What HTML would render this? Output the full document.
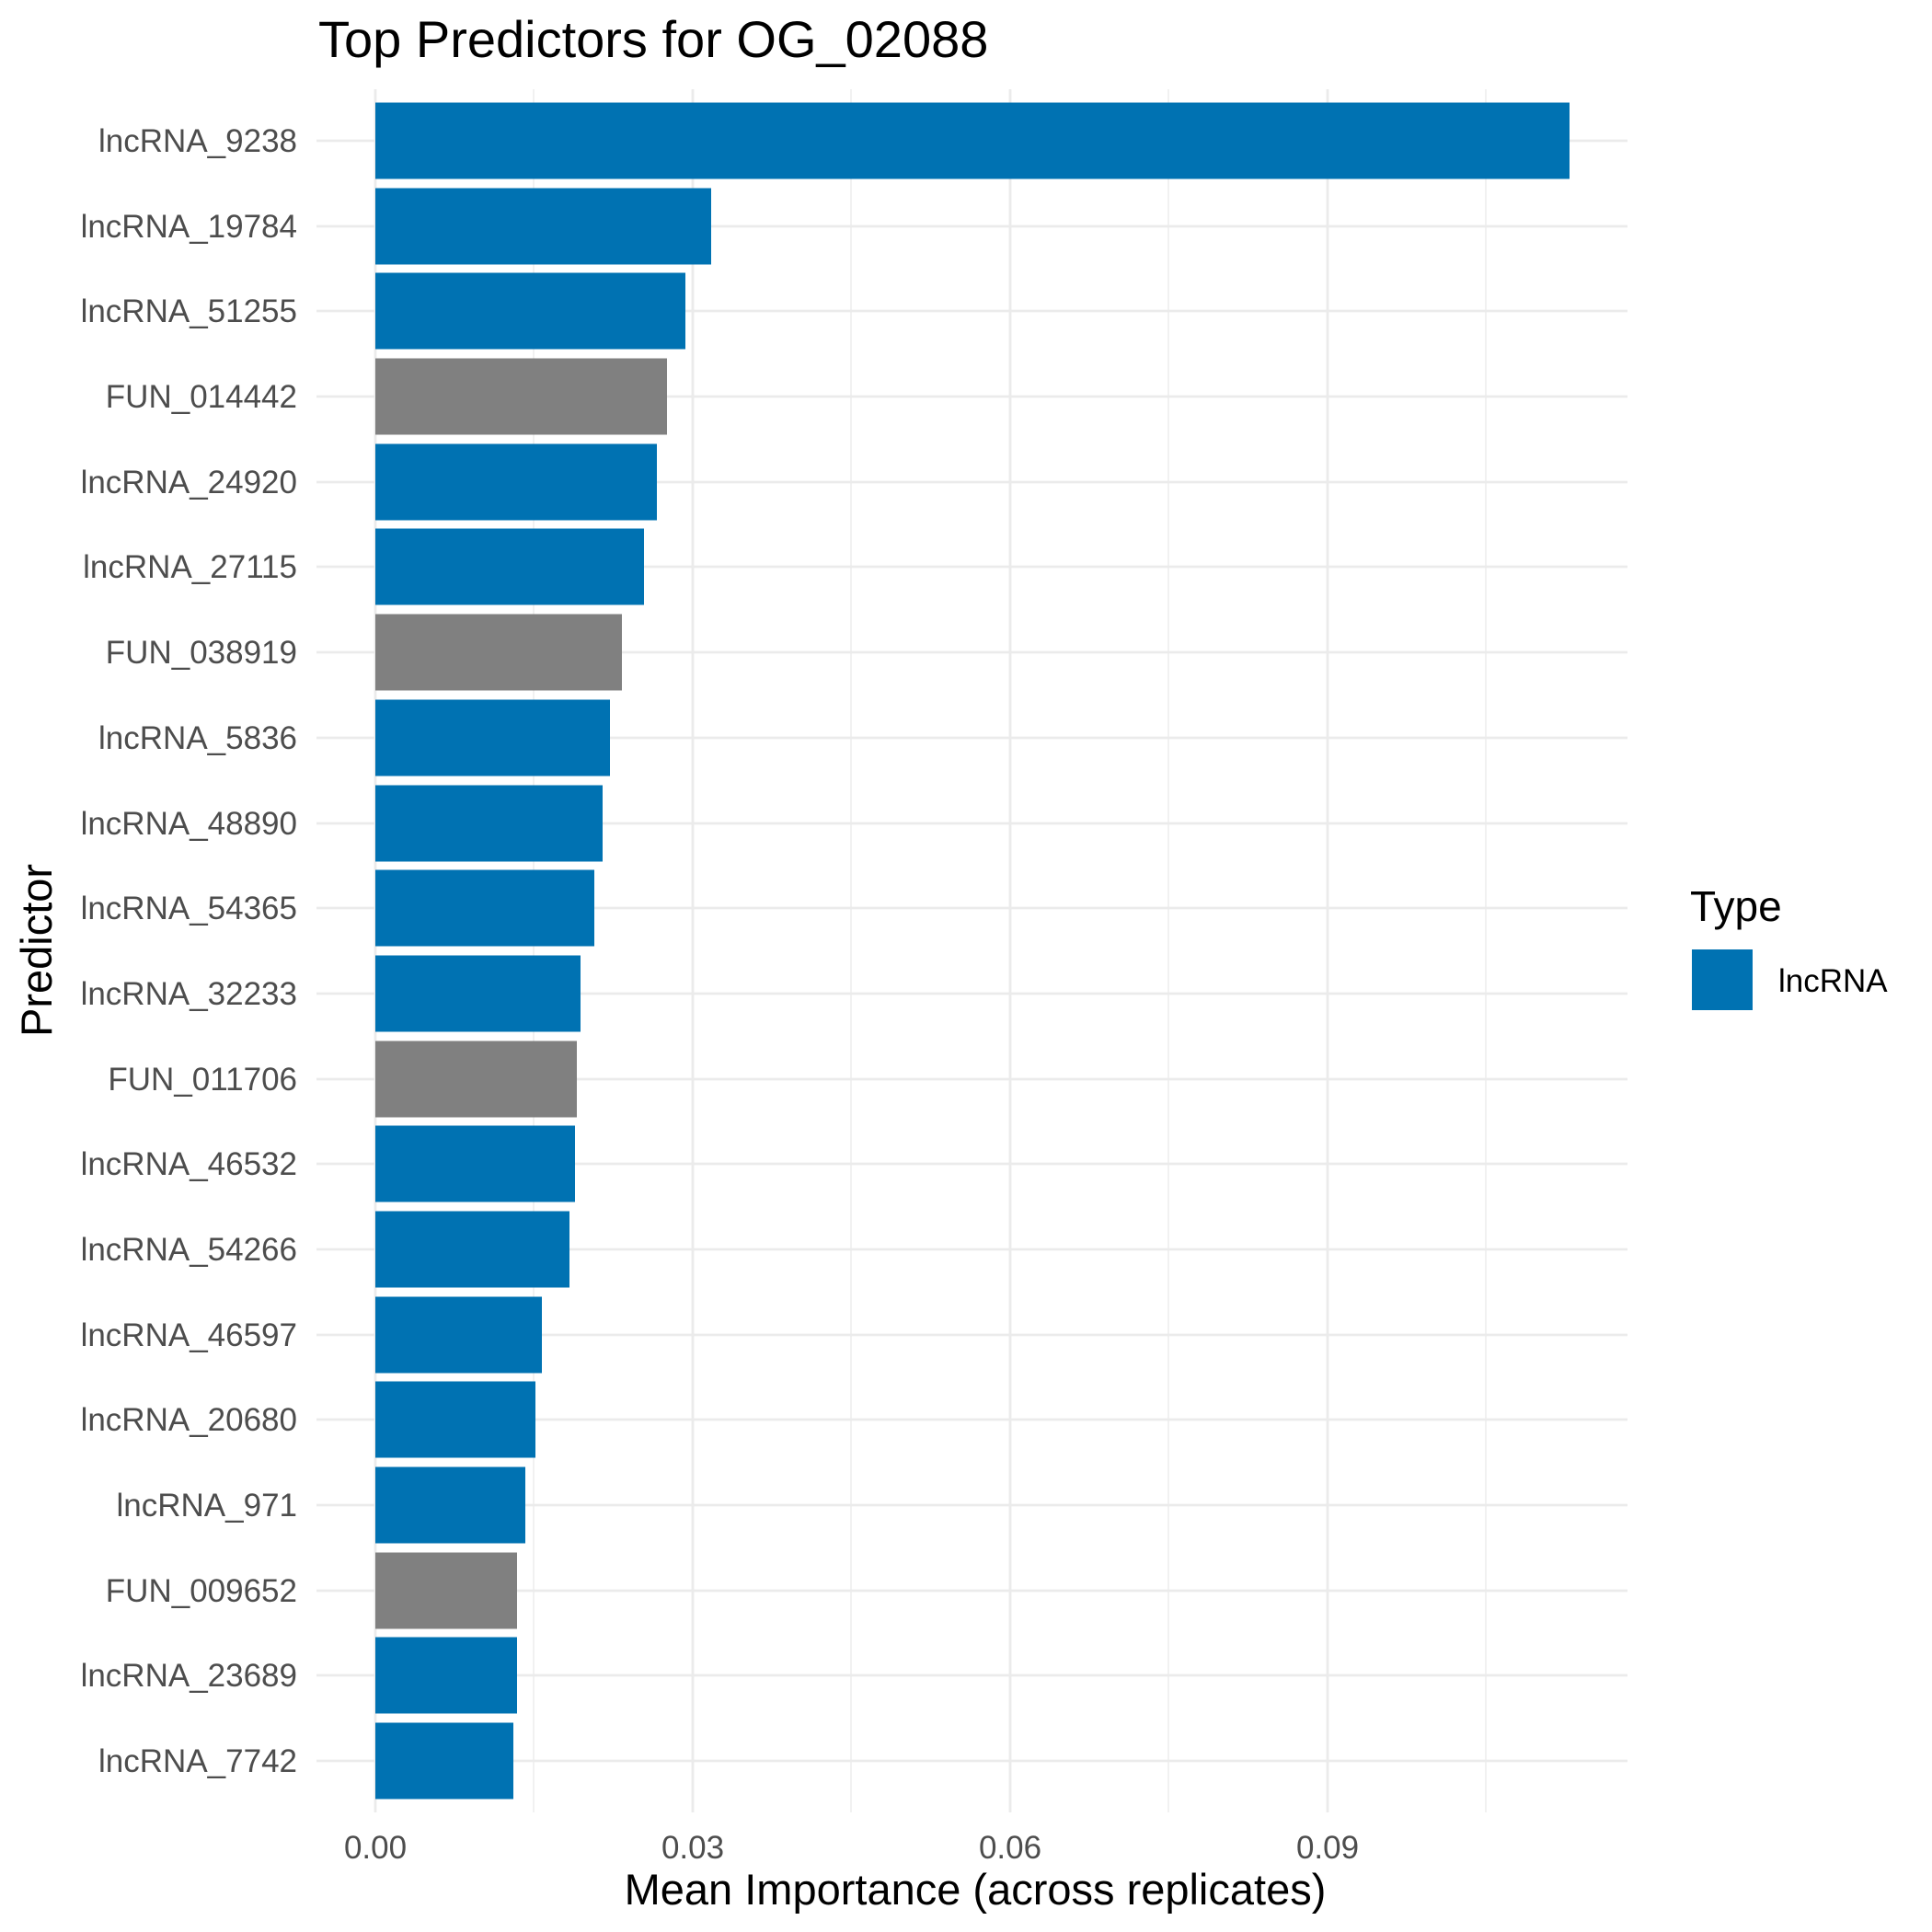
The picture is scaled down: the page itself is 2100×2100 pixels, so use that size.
<!DOCTYPE html>
<html><head><meta charset="utf-8"><style>html,body{margin:0;padding:0;background:#fff}svg{display:block}</style></head><body>
<svg width="2100" height="2100" viewBox="0 0 2100 2100" xmlns="http://www.w3.org/2000/svg" font-family="Liberation Sans, DejaVu Sans, sans-serif">
<rect width="2100" height="2100" fill="#fff"/>
<g stroke="#EBEBEB">
<g stroke-width="1.4">
<line x1="580" y1="97" x2="580" y2="1970"/><line x1="925" y1="97" x2="925" y2="1970"/><line x1="1270" y1="97" x2="1270" y2="1970"/><line x1="1615" y1="97" x2="1615" y2="1970"/>
</g>
<g stroke-width="2.8">
<line x1="408" y1="97" x2="408" y2="1970"/><line x1="753" y1="97" x2="753" y2="1970"/><line x1="1098" y1="97" x2="1098" y2="1970"/><line x1="1443" y1="97" x2="1443" y2="1970"/>
<line x1="344" y1="153" x2="1769" y2="153"/><line x1="344" y1="246" x2="1769" y2="246"/><line x1="344" y1="338" x2="1769" y2="338"/><line x1="344" y1="431" x2="1769" y2="431"/><line x1="344" y1="524" x2="1769" y2="524"/><line x1="344" y1="616" x2="1769" y2="616"/><line x1="344" y1="709" x2="1769" y2="709"/><line x1="344" y1="802" x2="1769" y2="802"/><line x1="344" y1="895" x2="1769" y2="895"/><line x1="344" y1="987" x2="1769" y2="987"/><line x1="344" y1="1080" x2="1769" y2="1080"/><line x1="344" y1="1173" x2="1769" y2="1173"/><line x1="344" y1="1265" x2="1769" y2="1265"/><line x1="344" y1="1358" x2="1769" y2="1358"/><line x1="344" y1="1451" x2="1769" y2="1451"/><line x1="344" y1="1543" x2="1769" y2="1543"/><line x1="344" y1="1636" x2="1769" y2="1636"/><line x1="344" y1="1729" x2="1769" y2="1729"/><line x1="344" y1="1821" x2="1769" y2="1821"/><line x1="344" y1="1914" x2="1769" y2="1914"/>
</g></g>
<g>
<rect x="408" y="111.5" width="1298" height="83" fill="#0072B2"/>
<rect x="408" y="204.5" width="365" height="83" fill="#0072B2"/>
<rect x="408" y="296.5" width="337" height="83" fill="#0072B2"/>
<rect x="408" y="389.5" width="317" height="83" fill="#808080"/>
<rect x="408" y="482.5" width="306" height="83" fill="#0072B2"/>
<rect x="408" y="574.5" width="292" height="83" fill="#0072B2"/>
<rect x="408" y="667.5" width="268" height="83" fill="#808080"/>
<rect x="408" y="760.5" width="255" height="83" fill="#0072B2"/>
<rect x="408" y="853.5" width="247" height="83" fill="#0072B2"/>
<rect x="408" y="945.5" width="238" height="83" fill="#0072B2"/>
<rect x="408" y="1038.5" width="223" height="83" fill="#0072B2"/>
<rect x="408" y="1131.5" width="219" height="83" fill="#808080"/>
<rect x="408" y="1223.5" width="217" height="83" fill="#0072B2"/>
<rect x="408" y="1316.5" width="211" height="83" fill="#0072B2"/>
<rect x="408" y="1409.5" width="181" height="83" fill="#0072B2"/>
<rect x="408" y="1501.5" width="174" height="83" fill="#0072B2"/>
<rect x="408" y="1594.5" width="163" height="83" fill="#0072B2"/>
<rect x="408" y="1687.5" width="154" height="83" fill="#808080"/>
<rect x="408" y="1779.5" width="154" height="83" fill="#0072B2"/>
<rect x="408" y="1872.5" width="150" height="83" fill="#0072B2"/>
</g>
<g font-size="35" fill="#4D4D4D" text-anchor="end">
<text x="323" y="165">lncRNA_9238</text><text x="323" y="258">lncRNA_19784</text><text x="323" y="350">lncRNA_51255</text><text x="323" y="443">FUN_014442</text><text x="323" y="536">lncRNA_24920</text><text x="323" y="628">lncRNA_27115</text><text x="323" y="721">FUN_038919</text><text x="323" y="814">lncRNA_5836</text><text x="323" y="907">lncRNA_48890</text><text x="323" y="999">lncRNA_54365</text><text x="323" y="1092">lncRNA_32233</text><text x="323" y="1185">FUN_011706</text><text x="323" y="1277">lncRNA_46532</text><text x="323" y="1370">lncRNA_54266</text><text x="323" y="1463">lncRNA_46597</text><text x="323" y="1555">lncRNA_20680</text><text x="323" y="1648">lncRNA_971</text><text x="323" y="1741">FUN_009652</text><text x="323" y="1833">lncRNA_23689</text><text x="323" y="1926">lncRNA_7742</text>
</g>
<g font-size="35" fill="#4D4D4D" text-anchor="middle">
<text x="408" y="2020">0.00</text><text x="753" y="2020">0.03</text><text x="1098" y="2020">0.06</text><text x="1443" y="2020">0.09</text>
</g>
<text x="1060" y="2070" font-size="47" text-anchor="middle" fill="#000">Mean Importance (across replicates)</text>
<text transform="translate(56,1033) rotate(-90)" font-size="47" text-anchor="middle" fill="#000">Predictor</text>
<text x="346" y="62" font-size="56" fill="#000">Top Predictors for OG_02088</text>
<text x="1837" y="1001" font-size="46" fill="#000">Type</text>
<rect x="1839" y="1032" width="66" height="66" fill="#0072B2"/>
<text x="1933" y="1078" font-size="35" fill="#000">lncRNA</text>
</svg>
</body></html>
